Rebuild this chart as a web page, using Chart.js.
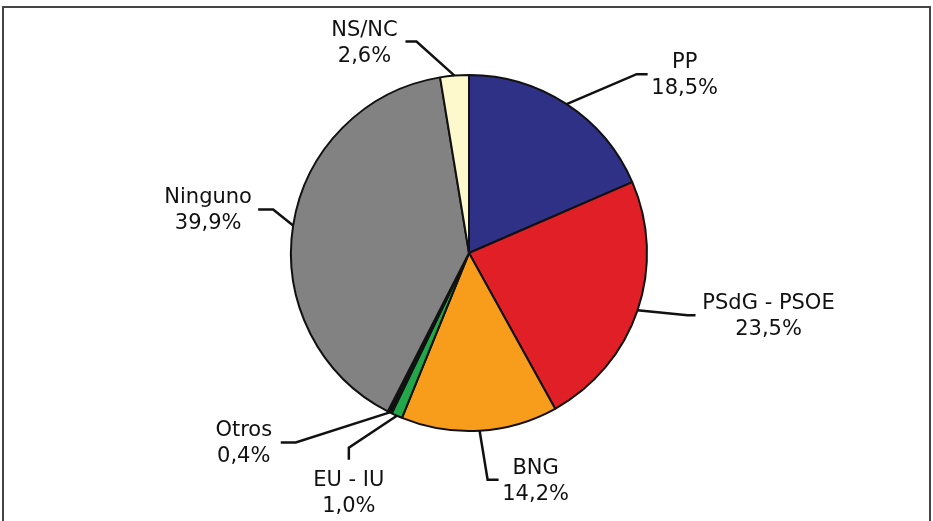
<!DOCTYPE html>
<html>
<head>
<meta charset="utf-8">
<script src="https://cdn.jsdelivr.net/npm/chart.js@4/dist/chart.umd.min.js"></script>
<style>
  html, body { margin: 0; padding: 0; background: #fff; }
  #wrap { position: relative; width: 933px; height: 521px; overflow: hidden; }
  #frame {
    position: absolute; left: 2px; top: 6px; width: 925px; height: 530px;
    border: 2px solid #454545; border-bottom: none;
  }
</style>
</head>
<body>
<div id="wrap">
  <div id="frame"></div>
  <canvas id="chart"></canvas>
</div>
<script>
const parties = ["PP", "PSdG - PSOE", "BNG", "EU - IU", "Otros", "Ninguno", "NS/NC"];
const shares = [18.5, 23.5, 14.2, 1.0, 0.4, 39.9, 2.6];
const sliceColors = ["#2e3186", "#e01f26", "#f89c1c", "#22a84a", "#111111", "#828282", "#fef9cc"];

// leader line layout: elbow relative to slice edge, end relative to elbow, text block centre relative to end
const leaders = [
  { elbow: [70, -30], end: [11, 0], text: [37, 1] },
  { elbow: [50, 5], end: [8, 0], text: [73, 1] },
  { elbow: [8, 49], end: [11, 0], text: [37, 2] },
  { elbow: [-48, 32], end: [0, 12], text: [0, 34] },
  { elbow: [-94, 30], end: [-15, 0], text: [-37, 1] },
  { elbow: [-20, -16], end: [-15, 0], text: [-50, 1] },
  { elbow: [-38, -34], end: [-11, 0], text: [-41, 2] }
];

const fmt = v => v.toFixed(1).replace(".", ",") + "%";

const leaderLabels = {
  id: "leaderLabels",
  afterDatasetsDraw(chart) {
    const ctx = chart.ctx;
    const meta = chart.getDatasetMeta(0);
    ctx.save();
    meta.data.forEach((arc, i) => {
      const p = arc.getProps(["x", "y", "startAngle", "endAngle", "outerRadius"], true);
      const mid = (p.startAngle + p.endAngle) / 2;
      const ax = p.x + Math.cos(mid) * p.outerRadius;
      const ay = p.y + Math.sin(mid) * p.outerRadius;
      const l = leaders[i];
      const ex = ax + l.elbow[0], ey = ay + l.elbow[1];
      const fx = ex + l.end[0], fy = ey + l.end[1];
      ctx.strokeStyle = "#111";
      ctx.lineWidth = 2.5;
      ctx.lineJoin = "miter";
      ctx.beginPath();
      ctx.moveTo(ax, ay);
      ctx.lineTo(ex, ey);
      ctx.lineTo(fx, fy);
      ctx.stroke();

      const tx = fx + l.text[0], ty = fy + l.text[1];
      ctx.fillStyle = "#111";
      ctx.font = "21px 'DejaVu Sans'";
      ctx.textAlign = "center";
      ctx.textBaseline = "middle";
      ctx.fillText(parties[i], tx, ty - 13);
      ctx.fillText(fmt(shares[i]), tx, ty + 13);
    });
    ctx.restore();
  }
};

new Chart(document.getElementById("chart"), {
  type: "pie",
  data: {
    labels: parties,
    datasets: [{
      data: shares,
      backgroundColor: sliceColors,
      borderColor: "#111",
      borderWidth: 2
    }]
  },
  options: {
    responsive: true,
    maintainAspectRatio: false,
    animation: false,
    radius: 178,
    layout: { padding: { left: 5, right: 0, top: 0, bottom: 15 } },
    plugins: {
      legend: { display: false },
      tooltip: { enabled: false }
    }
  },
  plugins: [leaderLabels]
});
</script>
</body>
</html>
